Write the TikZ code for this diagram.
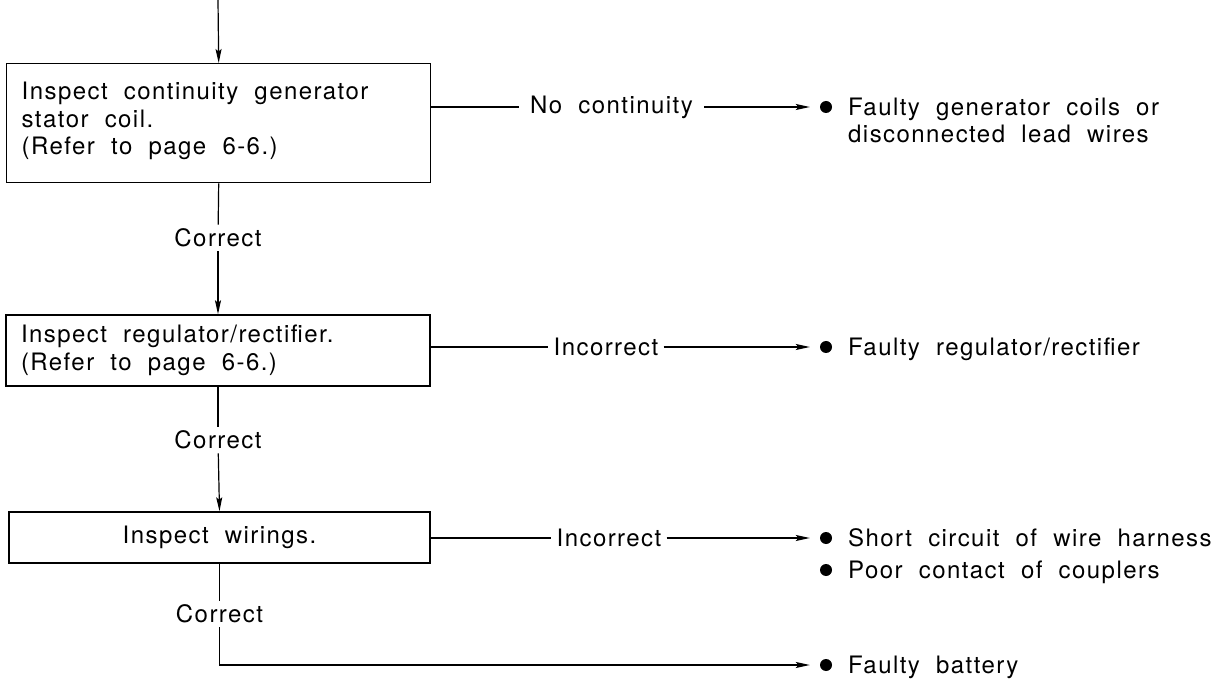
\documentclass[tikz,border=0pt]{standalone}
\usepackage{fontspec}
\setmainfont{TeX Gyre Heros}[LetterSpace=6, WordSpace=2]
\usetikzlibrary{arrows.meta}
\begin{document}
\begin{tikzpicture}[x=1pt,y=-1pt,
  every node/.style={font=\fontsize{24}{27.5}\selectfont},
  stepbox/.style={draw, line width=1.4pt, inner ysep=0pt},
  wire/.style={line width=1.2pt},
  flow/.style={wire, -{Stealth[length=14pt,width=6pt,inset=2.5pt]}},
  lbl/.style={fill=white, inner ysep=4pt},
  dot/.style={circle, fill, inner sep=0pt, minimum size=12pt},
  item/.style={inner sep=0pt}]
\path[use as bounding box] (0,0) rectangle (1215,684);

% process boxes
\coordinate (in) at (218,0);
\node[stepbox, anchor=north west, inner xsep=15pt, inner ysep=0pt] (b1) at (6,63)
  {\parbox[c][119pt][t]{394pt}{\vspace*{16.75pt}\strut Inspect continuity generator\\stator coil.\\(Refer to page 6-6.)}};
\node[stepbox, inner xsep=15pt, minimum height=71pt] (b2) at (218,350.5)
  {\parbox{394pt}{Inspect regulator/rectifier.\\(Refer to page 6-6.)}};
\node[stepbox, minimum width=421pt, minimum height=51pt] (b3) at (219.5,537.5) {Inspect wirings.};

% branch labels on the main line
\node[lbl, inner xsep=6pt] (c1) at (218,238) {Correct};
\node[lbl, inner xsep=6pt] (c2) at (218,440) {Correct};
\node[lbl, inner xsep=6pt] (c3) at (219.5,614) {Correct};

% results
\node[dot] (d1) at (826,107) {};
\node[item, anchor=north west] (t1) at (848,95.75)
  {\parbox[t]{360pt}{\strut Faulty generator coils or\\disconnected lead wires}};
\node[dot] (d2) at (826,347) {};
\node[item, anchor=base west] (t2) at (848,355.6) {Faulty regulator/rectifier};
\node[dot] (d3) at (826,538) {};
\node[item, anchor=base west] (t3) at (848,546.6) {Short circuit of wire harness};
\node[dot] (d3b) at (826,570) {};
\node[item, anchor=base west] (t3b) at (848,578.6) {Poor contact of couplers};
\node[dot] (d4) at (826,665) {};
\node[item, anchor=base west] (t4) at (848,673.6) {Faulty battery};

% side branch labels
\node[lbl, inner xsep=11pt] (n1) at (611.5,107) {No continuity};
\node[lbl, inner xsep=5pt] (n2) at (606,347) {Incorrect};
\node[lbl, inner xsep=5pt] (n3) at (609,538) {Incorrect};

% main flow
\draw[flow] (in) -- (b1.north);
\draw[wire] (b1.south) -- (c1);
\draw[flow] (c1) -- (b2.north);
\draw[wire] (b2.south) -- (c2);
\draw[flow] (c2) -- (b3.north);
\draw[wire] (b3.south) -- (c3);
\draw[flow, shorten >=10pt] (c3.south) |- (d4);

% side branches
\draw[wire] (b1.east |- n1) -- (n1);
\draw[flow, shorten >=10pt] (n1) -- (d1);
\draw[wire] (b2.east |- n2) -- (n2);
\draw[flow, shorten >=10pt] (n2) -- (d2);
\draw[wire] (b3.east |- n3) -- (n3);
\draw[flow, shorten >=10pt] (n3) -- (d3);
\end{tikzpicture}
\end{document}
